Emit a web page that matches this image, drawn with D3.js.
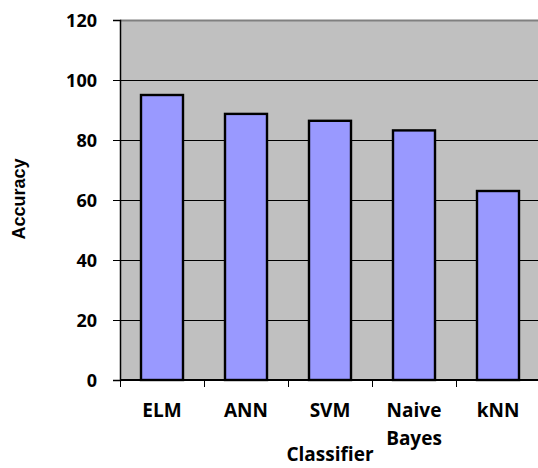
<!DOCTYPE html>
<html>
<head>
<meta charset="utf-8">
<script src="https://cdn.jsdelivr.net/npm/d3@7"></script>
<style>
  html, body { margin: 0; padding: 0; background: #fff; }
  svg { display: block; }
  text { font-family: "Open Sans", "DejaVu Sans", sans-serif; font-weight: bold; fill: #000; }
</style>
</head>
<body>
<svg id="chart" width="538" height="468"></svg>
<script>
// Classifier accuracy comparison
const categories = ["ELM", "ANN", "SVM", "Naive Bayes", "kNN"];
const accuracy = [95.0, 88.7, 86.4, 83.2, 63.0];
const yTicks = [0, 20, 40, 60, 80, 100, 120];

const svg = d3.select("#chart");
const plot = { left: 120, right: 540, top: 20, bottom: 380 };

const x = d3.scaleBand()
  .domain(categories)
  .range([plot.left, plot.right])
  .paddingInner(0.5)
  .paddingOuter(0.25);

const y = d3.scaleLinear()
  .domain([0, 120])
  .range([plot.bottom, plot.top]);

// plot background
svg.append("rect")
  .attr("x", plot.left).attr("y", plot.top)
  .attr("width", plot.right - plot.left)
  .attr("height", plot.bottom - plot.top)
  .attr("fill", "#c0c0c0");

// top border
svg.append("line")
  .attr("x1", plot.left).attr("x2", plot.right)
  .attr("y1", plot.top + 0.5).attr("y2", plot.top + 0.5)
  .attr("stroke", "#808080").attr("stroke-width", 2);

// horizontal gridlines
svg.append("g")
  .selectAll("line")
  .data(yTicks.filter(t => t > 0 && t < 120))
  .join("line")
  .attr("x1", plot.left).attr("x2", plot.right)
  .attr("y1", d => Math.round(y(d)) + 0.5)
  .attr("y2", d => Math.round(y(d)) + 0.5)
  .attr("stroke", "#000").attr("stroke-width", 1);

// bars
svg.append("g")
  .selectAll("rect")
  .data(categories)
  .join("rect")
  .attr("x", d => x(d))
  .attr("y", (d, i) => y(accuracy[i]))
  .attr("width", x.bandwidth())
  .attr("height", (d, i) => y(0) - y(accuracy[i]))
  .attr("fill", "#9999ff")
  .attr("stroke", "#000")
  .attr("stroke-width", 2.4);

// y axis
const yAxis = svg.append("g")
  .attr("transform", `translate(${plot.left},0)`)
  .call(d3.axisLeft(y).tickValues(yTicks).tickSize(7).tickPadding(16).tickFormat(d3.format("d")));
yAxis.select(".domain").attr("stroke", "#000").attr("stroke-width", 1.5);
yAxis.selectAll(".tick line").attr("stroke", "#000");
yAxis.selectAll("text").style("font-size", "18px").attr("dy", "0.35em");

// x axis with ticks at category boundaries
const xAxis = svg.append("g")
  .attr("transform", `translate(0,${plot.bottom})`);
xAxis.append("line")
  .attr("x1", plot.left).attr("x2", plot.right)
  .attr("y1", 0).attr("y2", 0)
  .attr("stroke", "#000").attr("stroke-width", 2);
const step = x.step();
xAxis.selectAll(".xtick")
  .data(categories)
  .join("line")
  .attr("class", "xtick")
  .attr("x1", d => Math.round(x(d) - step * 0.25) + 0.5)
  .attr("x2", d => Math.round(x(d) - step * 0.25) + 0.5)
  .attr("y1", 0).attr("y2", 7)
  .attr("stroke", "#000");

const labels = xAxis.selectAll(".xlabel")
  .data(categories)
  .join("text")
  .attr("class", "xlabel")
  .attr("text-anchor", "middle")
  .attr("x", d => x(d) + x.bandwidth() / 2)
  .attr("y", 37)
  .style("font-size", "19px");
labels.each(function(d) {
  const words = d.split(" ");
  d3.select(this).selectAll("tspan")
    .data(words)
    .join("tspan")
    .attr("x", x(d) + x.bandwidth() / 2)
    .attr("dy", (w, i) => i === 0 ? 0 : 28)
    .text(w => w);
});

// axis titles
svg.append("text")
  .attr("text-anchor", "middle")
  .attr("x", 330)
  .attr("y", 461)
  .style("font-size", "19px")
  .text("Classifier");

svg.append("text")
  .attr("text-anchor", "middle")
  .attr("transform", "translate(25,199) rotate(-90)")
  .style("font-family", "'Liberation Sans', Arial, sans-serif")
  .style("font-size", "18px")
  .text("Accuracy");
</script>
</body>
</html>
